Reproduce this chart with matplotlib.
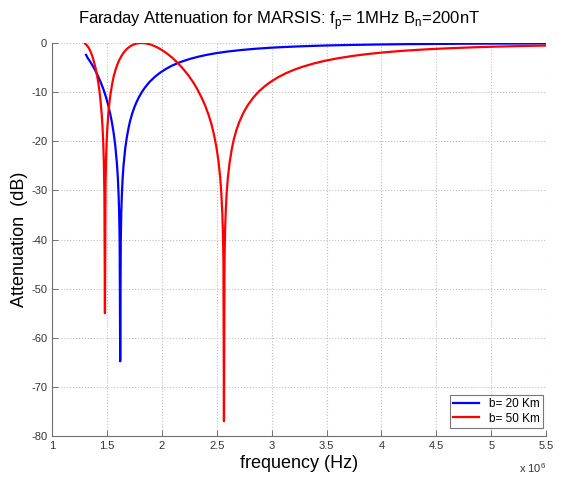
import matplotlib
matplotlib.use('Agg')
import matplotlib.pyplot as plt
from matplotlib.ticker import MultipleLocator, FormatStrFormatter

plt.rcParams['font.family'] = ['Liberation Sans', 'DejaVu Sans']

# frequency in units of 1e6 Hz, attenuation in dB
freq_b20 = [1.31, 1.323, 1.343, 1.367, 1.392, 1.417, 1.442, 1.467, 1.492, 1.512,
            1.531, 1.546, 1.561, 1.576, 1.591, 1.599, 1.606, 1.611, 1.616, 1.621,
            1.626, 1.631, 1.636, 1.643, 1.651, 1.666, 1.681, 1.696, 1.710, 1.730,
            1.750, 1.770, 1.790, 1.815, 1.840, 1.865, 1.889, 1.939, 1.989, 2.039,
            2.088, 2.138, 2.188, 2.257, 2.337, 2.407, 2.486, 2.586, 2.735, 2.854,
            2.983, 3.083, 3.232, 3.332, 3.481, 3.729, 3.978, 4.227, 4.475, 4.724,
            4.972, 5.221, 5.5]
att_b20 = [-2.42, -2.98, -3.63, -4.52, -5.51, -6.63, -7.91, -9.35, -11.04, -12.64,
           -14.52, -16.22, -18.26, -20.88, -24.51, -27.27, -30.66, -34.2, -40.3, -64.8,
           -40.4, -34.4, -30.9, -27.64, -25.0, -21.60, -19.23, -17.41, -15.96, -14.38,
           -13.09, -12.01, -11.10, -10.10, -9.26, -8.55, -7.90, -6.83, -5.97, -5.26,
           -4.65, -4.16, -3.73, -3.23, -2.76, -2.42, -2.10, -1.77, -1.40, -1.17,
           -0.97, -0.85, -0.70, -0.62, -0.51, -0.39, -0.30, -0.23, -0.19, -0.15,
           -0.12, -0.10, -0.08]

freq_b50 = [1.30, 1.308, 1.323, 1.338, 1.353, 1.368, 1.382, 1.397, 1.412, 1.422,
            1.432, 1.442, 1.452, 1.460, 1.467, 1.472, 1.477, 1.482, 1.487, 1.492,
            1.497, 1.502, 1.512, 1.522, 1.532, 1.547, 1.561, 1.576, 1.591, 1.611,
            1.631, 1.651, 1.671, 1.691, 1.711, 1.736, 1.760, 1.785, 1.810, 1.840,
            1.870, 1.900, 1.939, 1.964, 1.989, 2.039, 2.089, 2.138, 2.188, 2.238,
            2.288, 2.327, 2.367, 2.397, 2.427, 2.452, 2.476, 2.496, 2.516, 2.531,
            2.541, 2.551, 2.556, 2.561, 2.566, 2.571, 2.576, 2.583, 2.591, 2.601,
            2.616, 2.636, 2.655, 2.680, 2.705, 2.745, 2.785, 2.835, 2.884, 2.934,
            2.984, 3.053, 3.133, 3.203, 3.282, 3.382, 3.481, 3.600, 3.730, 3.849,
            3.978, 4.098, 4.227, 4.346, 4.476, 4.595, 4.724, 4.844, 4.973, 5.092,
            5.221, 5.341, 5.5]
att_b50 = [-0.1, -0.25, -0.62, -1.15, -1.85, -2.73, -3.83, -5.17, -6.83, -8.17,
           -9.78, -11.77, -14.37, -17.13, -20.58, -24.28, -30.72, -55.0, -29.35, -23.70,
           -20.35, -17.96, -14.62, -12.28, -10.49, -8.42, -6.87, -5.64, -4.62, -3.53,
           -2.70, -2.00, -1.46, -1.02, -0.69, -0.38, -0.17, -0.05, 0.0, -0.03,
           -0.15, -0.33, -0.68, -0.96, -1.27, -2.00, -2.88, -3.91, -5.10, -6.47,
           -8.07, -9.56, -11.32, -12.87, -14.69, -16.51, -18.76, -21.03, -24.05, -27.23,
           -30.20, -34.66, -38.2, -44.2, -77.0, -44.4, -38.3, -33.77, -30.46, -27.6,
           -24.57, -21.74, -19.67, -17.67, -16.10, -14.12, -12.58, -11.07, -9.85, -8.87,
           -8.01, -7.04, -6.12, -5.46, -4.83, -4.18, -3.64, -3.12, -2.66, -2.31,
           -2.00, -1.76, -1.54, -1.37, -1.21, -1.09, -0.97, -0.87, -0.78, -0.71,
           -0.64, -0.58, -0.52]

fig = plt.figure(figsize=(5.63, 4.79), dpi=100)
ax = fig.add_axes([0.0924, 0.0898, 0.8776, 0.8204])

ax.plot(freq_b20, att_b20, color='#0000ff', lw=1.6, label='b= 20 Km')
ax.plot(freq_b50, att_b50, color='#ff0000', lw=1.6, label='b= 50 Km')

ax.set_xlim(1, 5.5)
ax.set_ylim(-80, 0)
ax.xaxis.set_major_locator(MultipleLocator(0.5))
ax.yaxis.set_major_locator(MultipleLocator(10))
ax.xaxis.set_major_formatter(FormatStrFormatter('%g'))
ax.yaxis.set_major_formatter(FormatStrFormatter('%g'))
ax.grid(True, linestyle=':', color='#c0c0c0', lw=0.8)

for s in ['top', 'right']:
    ax.spines[s].set_visible(False)
for s in ['left', 'bottom']:
    ax.spines[s].set_color('#707070')
    ax.spines[s].set_linewidth(0.8)
ax.tick_params(direction='in', length=4, width=0.7, colors='#707070',
               labelcolor='#333333', labelsize=8)

ax.set_title('Faraday Attenuation for MARSIS: f$_\\mathregular{p}$= 1MHz B$_\\mathregular{n}$=200nT',
             fontsize=12, pad=14, x=0.46)
ax.set_xlabel('frequency (Hz)', fontsize=13, labelpad=3)
ax.set_ylabel('Attenuation  (dB)', fontsize=13, labelpad=2)
ax.text(1.0, -0.063, 'x 10$^\\mathregular{6}$', transform=ax.transAxes,
        ha='right', va='top', fontsize=8, color='#333333')

leg = ax.legend(loc='lower right', fontsize=8.5, frameon=True, fancybox=False,
                handlelength=2.2, borderpad=0.3, labelspacing=0.2,
                borderaxespad=0, bbox_to_anchor=(0.994, 0.02))
leg.get_frame().set_edgecolor('#555555')
leg.get_frame().set_linewidth(0.8)

fig.savefig('out.png', dpi=100)
